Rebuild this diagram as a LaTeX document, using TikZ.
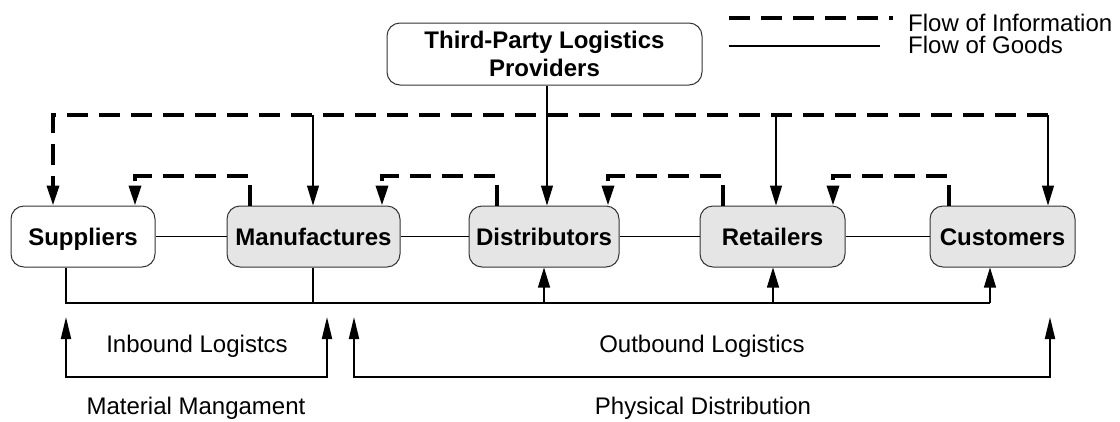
\documentclass[tikz,border=0pt]{standalone}
\usepackage{fontspec}
\setmainfont{Liberation Sans}
\usetikzlibrary{arrows.meta,calc}
\begin{document}
\begin{tikzpicture}[x=1pt,y=-1pt,
  box/.style={draw=black!80, line width=1pt, rounded corners=13pt, inner sep=0pt,
    font=\fontsize{24}{28}\selectfont\bfseries, text height=17pt, text depth=0pt,
    minimum height=61pt},
  graybox/.style={box, fill=black!10},
  info/.style={line width=3.4pt, dash pattern=on 21pt off 11pt},
  goods/.style={line width=1.3pt},
  tip/.style={-{Triangle[length=20pt,width=12pt]}},
  brk/.style={line width=2pt, {Triangle[length=22pt,width=10pt]}-{Triangle[length=22pt,width=10pt]}},
  lbl/.style={font=\fontsize{24}{28}\selectfont, inner sep=0pt, anchor=base},
]
\useasboundingbox (0,0) rectangle (1120,421);

% boxes
\node[box, fill=white, minimum width=144pt] (sup) at (83,236.5) {Suppliers};
\node[graybox, minimum width=173pt] (man) at (313.5,236.5) {Manufactures};
\node[graybox, minimum width=150pt] (dis) at (544,236.5) {Distributors};
\node[graybox, minimum width=145pt] (ret) at (772.5,236.5) {Retailers};
\node[graybox, minimum width=145pt] (cus) at (1002.5,236.5) {Customers};
\node[draw=black!80, line width=1pt, rounded corners=13pt, fill=white, inner sep=0pt,
  minimum width=315pt, minimum height=62pt, align=center,
  font=\fontsize{24}{28}\selectfont\bfseries] (tpl) at (544.5,54)
  {Third-Party Logistics\\Providers};

% goods flow between boxes
\draw[goods] (sup) -- (man);
\draw[goods] (man) -- (dis);
\draw[goods] (dis) -- (ret);
\draw[goods] (ret) -- (cus);

% top information line
\coordinate (topL) at (53,115);
\coordinate (topR) at (1048,115);
\draw[info] (topR) -- (topL) -- ($(topL |- sup.north)+(0,-14)$);
\draw[tip, line width=3.4pt] ($(topL |- sup.north)+(0,-16)$) -- (topL |- sup.north);
\draw[goods, tip] (313,115) -- (313,0 |- man.north);
\draw[goods, tip] (776,115) -- (776,0 |- ret.north);
\draw[goods, tip] (topR) -- (topR |- cus.north);
\draw[goods, tip] (tpl.south -| 547,0) -- (547,0 |- dis.north);

% short information loops
\draw[info, tip] (250,0 |- man.north) -- (250,176) -- (135,176) -- (135,0 |- sup.north);
\draw[info, tip] (497,0 |- dis.north) -- (497,176) -- (382,176) -- (382,0 |- man.north);
\draw[info, tip] (723,0 |- ret.north) -- (723,176) -- (608,176) -- (608,0 |- dis.north);
\draw[info, tip] (949,0 |- cus.north) -- (949,176) -- (833,176) -- (833,0 |- ret.north);

% bottom goods line
\coordinate (bl) at (66,303);
\coordinate (br) at (990,303);
\draw[goods] (bl |- sup.south) -- (bl) -- (br);
\draw[goods] (313,0 |- man.south) -- (313,0 |- bl);
\draw[goods, tip] (br) -- (br |- cus.south);
\draw[goods, tip] (544,0 |- bl) -- (544,0 |- dis.south);
\draw[goods, tip] (773,0 |- bl) -- (773,0 |- ret.south);

% brackets
\draw[brk] (66,317) -- (66,377) -- (327,377) -- (327,317);
\draw[brk] (354,317) -- (354,377) -- (1050,377) -- (1050,317);
\node[lbl] (inb) at (197,352) {Inbound Logistcs};
\node[lbl] (outb) at (702,352) {Outbound Logistics};
\node[lbl] (mat) at (196,414) {Material Mangament};
\node[lbl] (phy) at (703,414) {Physical Distribution};

% legend
\draw[info] (729,18) -- (893,18);
\draw[goods] (729,46) -- (880,46);
\node[lbl, anchor=base west] (li) at (908,31) {Flow of Information};
\node[lbl, anchor=base west] (lg) at (908,53) {Flow of Goods};
\end{tikzpicture}
\end{document}
